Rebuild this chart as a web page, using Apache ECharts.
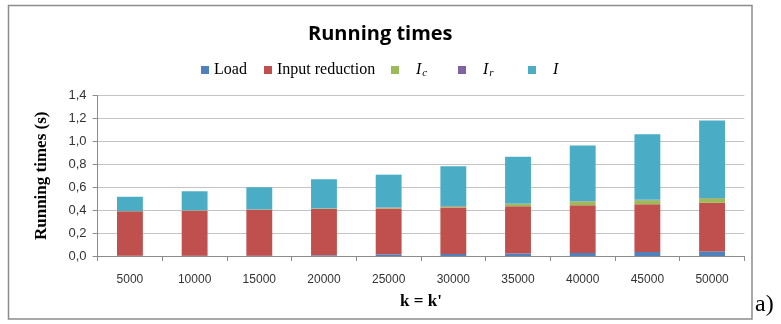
<!DOCTYPE html>
<html><head><meta charset="utf-8">
<script src="https://cdn.jsdelivr.net/npm/echarts@6/dist/echarts.min.js"></script>
<style>html,body{margin:0;padding:0;background:#fff}#c{width:781px;height:324px}</style>
</head><body><div id="c"></div>
<script>
const categories = ['5000','10000','15000','20000','25000','30000','35000','40000','45000','50000'];
const loadVals   = [0.002,0.003,0.003,0.006,0.015,0.018,0.022,0.026,0.036,0.040];
const inputRed   = [0.388,0.393,0.400,0.404,0.400,0.405,0.413,0.417,0.416,0.424];
const icVals     = [0.002,0.003,0.003,0.005,0.007,0.010,0.020,0.033,0.035,0.040];
const irVals     = [0.001,0.001,0.001,0.001,0.002,0.004,0.003,0.003,0.003,0.003];
const iVals      = [0.124,0.165,0.193,0.254,0.286,0.346,0.409,0.486,0.573,0.676];
const yTicks = { min: 0, max: 1.4, interval: 0.2 };

const colors = ['#4F81BD','#C0504D','#9BBB59','#8064A2','#4BACC6'];
const names = ['Load','Input reduction','Ic','Ir','I'];
const dataArr = [loadVals, inputRed, icVals, irVals, iVals];
const legendLefts = [196, 259, 386, 453, 523];

const rich = {
  it: {fontFamily:'Liberation Serif', fontStyle:'italic', fontSize:16, color:'#000'},
  sub:{fontFamily:'Liberation Serif', fontStyle:'italic', fontSize:11, color:'#000', verticalAlign:'bottom', padding:[6,0,0,1]},
  pad:{width:12}
};
function legendFmt(n){
  if(n==='Ic') return '{pad|}{it|I}{sub|c}';
  if(n==='Ir') return '{pad|}{it|I}{sub|r}';
  if(n==='I') return '{pad|}{it|I}';
  return n;
}

const chart = echarts.init(document.getElementById('c'), null, {renderer:'canvas'});
chart.setOption({
  animation:false,
  color: colors,
  title:{text:'Running times', left:303, top:19,
    textStyle:{fontFamily:'Open Sans', fontWeight:'bold', fontSize:20, color:'#000'}},
  legend: names.map((n,i)=>({
    data:[n], left:legendLefts[i], top:57, icon:'rect', itemWidth:8, itemHeight:8, itemGap:0,
    selectedMode:false, formatter: legendFmt,
    textStyle:{fontFamily:'Liberation Serif', fontSize:16, color:'#000', rich: rich}
  })),
  grid:{left:97.6, right:36.6, top:95.6, bottom:68, containLabel:false},
  xAxis:{type:'category', data:categories,
    name:"k = k'", nameLocation:'middle', nameGap:37,
    nameTextStyle:{fontFamily:'Liberation Serif', fontWeight:'bold', fontSize:17, color:'#000'},
    axisLine:{lineStyle:{color:'#8c8c8c', width:1}},
    axisTick:{show:true, length:5, lineStyle:{color:'#8c8c8c'}},
    axisLabel:{fontFamily:'Liberation Sans', fontSize:12, color:'#333', margin:18}
  },
  yAxis:{type:'value', min:yTicks.min, max:yTicks.max, interval:yTicks.interval,
    name:'Running times (s)', nameLocation:'middle', nameGap:47,
    nameTextStyle:{fontFamily:'Liberation Serif', fontWeight:'bold', fontSize:17, color:'#000'},
    axisLine:{show:true, lineStyle:{color:'#8c8c8c', width:1}},
    axisTick:{show:true, length:5, lineStyle:{color:'#8c8c8c'}},
    splitLine:{lineStyle:{color:'#c4c4c4', width:1}},
    axisLabel:{fontFamily:'Liberation Sans', fontSize:13, color:'#333', margin:11,
      formatter: v => v.toFixed(1).replace('.', ',')}
  },
  series: names.map((n,i)=>({
    name:n, type:'bar', stack:'t', barWidth:'40%', data:dataArr[i],
    itemStyle:{color:colors[i]}
  })),
  graphic:[
    {type:'rect', shape:{x:8.5, y:5.5, width:743.5, height:313.5}, style:{fill:'none', stroke:'#8c8c8c', lineWidth:1.5}, silent:true},
    {type:'text', left:755, top:293, style:{text:'a)', fontFamily:'Liberation Serif', fontSize:24, fill:'#000'}}
  ]
});
</script></body></html>
